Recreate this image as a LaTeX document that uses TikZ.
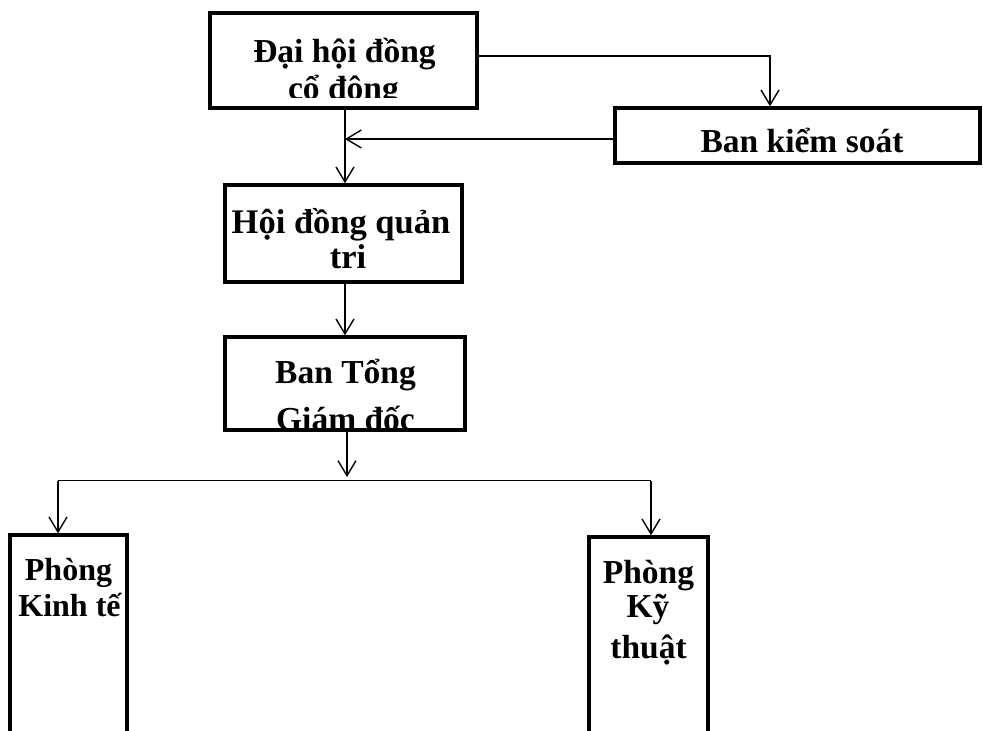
\documentclass[tikz,border=0pt]{standalone}
\usepackage{fontspec}
\setmainfont{Liberation Serif}
\usetikzlibrary{arrows.meta}
\tikzset{
  box/.style={draw=black, line width=3.4pt, rectangle, inner sep=0pt},
  txt/.style={anchor=base, inner sep=0pt, font=\fontsize{33.5}{36}\selectfont\bfseries},
  conn/.style={draw=black, line width=1.4pt},
  arr/.style={conn, -{Straight Barb[length=15pt,width=18pt,line width=1.4pt]}}
}
\begin{document}
\begin{tikzpicture}[x=1pt,y=-1pt]
\useasboundingbox (0,0) rectangle (983,731);
\clip (0,0) rectangle (983,731);
\fill[white] (0,0) rectangle (983,731);
% boxes
\node[box, minimum width=267pt, minimum height=95pt] (A) at (343.5,60.5) {};
\node[box, minimum width=365pt, minimum height=55pt] (B) at (797.5,135.5) {};
\node[box, minimum width=237pt, minimum height=97pt] (C) at (343.5,233.5) {};
\node[box, minimum width=240pt, minimum height=93pt] (D) at (345,383.5) {};
\node[box, minimum width=117pt, minimum height=225pt] (E) at (68.5,647.5) {};
\node[box, minimum width=119pt, minimum height=223pt] (F) at (648.5,648.5) {};
% texts
\begin{scope}
\clip (212,15) rectangle (475,97);
\node[txt] (ta1) at (344.5,62) {Đại hội đồng};
\node[txt] (ta2) at (343.5,99) {cổ đông};
\end{scope}
\node[txt] (tb) at (802,152) {Ban kiểm soát};
\node[txt, font=\fontsize{34.5}{36}\selectfont\bfseries] (tc1) at (341,233) {Hội đồng quản};
\node[txt, font=\fontsize{34.5}{36}\selectfont\bfseries] (tc2) at (348,268) {tri};
\begin{scope}
\clip (228,339) rectangle (463,427);
\node[txt] (td1) at (345.5,383) {Ban Tổng};
\node[txt] (td2) at (345.5,430) {Giám đốc};
\end{scope}
\node[txt, font=\fontsize{32}{36}\selectfont\bfseries] (te1) at (68.5,580) {Phòng};
\node[txt, font=\fontsize{32}{36}\selectfont\bfseries] (te2) at (69.5,616) {Kinh tế};
\node[txt] (tf1) at (648.5,583) {Phòng};
\node[txt] (tf2) at (648,617) {Kỹ};
\node[txt] (tf3) at (648.5,658) {thuật};
% connectors
\coordinate (bk) at (770,56);
\draw[arr] (A.east |- bk) -- (bk) -- (bk |- B.north);
\coordinate (jn) at (345,139);
\draw[arr] (B.west |- jn) -- (jn);
\draw[arr] (A.south -| jn) -- (C.north -| jn);
\draw[arr] (C.south -| jn) -- (D.north -| jn);
\coordinate (sp) at (347,477);
\coordinate (sl) at (58,480.5);
\coordinate (sr) at (651,480.5);
\draw[arr] (D.south -| sp) -- (sp);
\draw[conn] (sl) -- (sr);
\draw[arr] (sl) -- (sl |- E.north);
\draw[arr] (sr) -- (sr |- F.north);
\end{tikzpicture}
\end{document}
